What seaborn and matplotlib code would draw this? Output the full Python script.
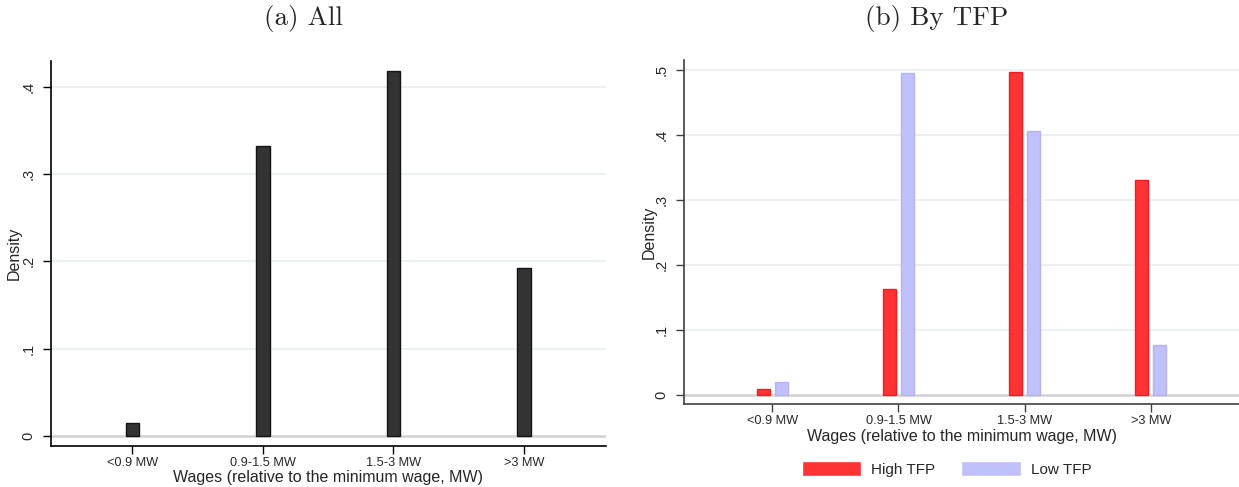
import matplotlib
matplotlib.use("Agg")
import matplotlib.pyplot as plt
import pandas as pd
import seaborn as sns

# Wage bins relative to the minimum wage
categories = ["<0.9 MW", "0.9-1.5 MW", "1.5-3 MW", ">3 MW"]

# Density of workers per bin, all firms
density_all = [0.015, 0.333, 0.419, 0.193]

# Density of workers per bin, split by firm TFP
density_high_tfp = [0.009, 0.163, 0.497, 0.331]
density_low_tfp = [0.020, 0.495, 0.406, 0.077]
groups = ["High TFP", "Low TFP"]

yticks_all = [0, 0.1, 0.2, 0.3, 0.4]
yticklabels_all = ["0", ".1", ".2", ".3", ".4"]
yticks_tfp = [0, 0.1, 0.2, 0.3, 0.4, 0.5]
yticklabels_tfp = ["0", ".1", ".2", ".3", ".4", ".5"]

titles = ["(a) All", "(b) By TFP"]
xlabel = "Wages (relative to the minimum wage, MW)"
ylabel = "Density"

sns.set_style("white")
plt.rcParams["font.family"] = ["Liberation Sans", "DejaVu Sans"]

df_all = pd.DataFrame({"bin": categories, "density": density_all})
df_tfp = pd.DataFrame({
    "bin": categories * 2,
    "density": density_high_tfp + density_low_tfp,
    "group": [groups[0]] * len(categories) + [groups[1]] * len(categories),
})

fig = plt.figure(figsize=(12.39, 4.87), dpi=100)
ax1 = fig.add_axes([0.0409, 0.0842, 0.4482, 0.7905])
ax2 = fig.add_axes([0.5521, 0.1698, 0.4479, 0.7070])

grid_color = "#E8F0F2"
zero_color = "#D2D2D2"


def style_axes(ax, yticks, yticklabels, ylim, xlim, spine_color):
    for y in yticks[1:]:
        ax.axhline(y, color=grid_color, lw=1.3, zorder=0)
    ax.axhline(0, color=zero_color, lw=1.8, zorder=0.5)
    ax.set_ylim(*ylim)
    ax.set_xlim(*xlim)
    ax.set_yticks(yticks)
    ax.set_yticklabels(yticklabels, rotation=90, va="center", fontsize=10.5)
    ax.tick_params(axis="y", direction="out", length=6, width=1,
                   color=spine_color, pad=5, left=True)
    ax.tick_params(axis="x", direction="out", length=6, width=1,
                   color=spine_color, pad=2, bottom=True, labelsize=9.2)
    for side in ("top", "right"):
        ax.spines[side].set_visible(False)
    for side in ("left", "bottom"):
        ax.spines[side].set_color(spine_color)
        ax.spines[side].set_linewidth(1.2)
    ax.set_xlabel(xlabel, fontsize=11.5, labelpad=1)
    ax.set_ylabel(ylabel, fontsize=11.5)
    ax.grid(False)


# Panel (a): all workers
sns.barplot(data=df_all, x="bin", y="density", ax=ax1, color="#333333",
            saturation=1, width=0.102, edgecolor="#141414", linewidth=1.0,
            zorder=2)
style_axes(ax1, yticks_all, yticklabels_all, (-0.0118, 0.430),
           (-0.625, 3.628), "#000000")
ax1.yaxis.set_label_coords(-0.052, 0.5)

# Panel (b): by TFP
palette = {"High TFP": "#FF3333", "Low TFP": "#C0C0FA"}
sns.barplot(data=df_tfp, x="bin", y="density", hue="group", ax=ax2,
            palette=palette, saturation=1, width=0.29, gap=0.29,
            linewidth=1.0, zorder=2)
for patch in ax2.patches:
    fc = patch.get_facecolor()
    if fc[0] > 0.9 and fc[2] < 0.5:
        patch.set_edgecolor("#F01E1E")
    else:
        patch.set_edgecolor("#B4B4F2")
style_axes(ax2, yticks_tfp, yticklabels_tfp, (-0.0143, 0.5154),
           (-0.70, 3.70), "#404040")
ax2.yaxis.set_label_coords(-0.05, 0.5)

sns.move_legend(ax2, loc="center", bbox_to_anchor=(0.764, 0.037),
                bbox_transform=fig.transFigure, ncol=2, frameon=False,
                title=None, fontsize=11, handlelength=3.9,
                handleheight=1.05, handletextpad=0.65, columnspacing=1.7)

# Panel titles, centred over each half of the figure
fig.text(0.245, 0.963, titles[0], ha="center", va="center",
         fontfamily="cmr10", fontsize=19.5)
fig.text(0.756, 0.963, titles[1], ha="center", va="center",
         fontfamily="cmr10", fontsize=19.5)

fig.savefig("out.png", dpi=100)
